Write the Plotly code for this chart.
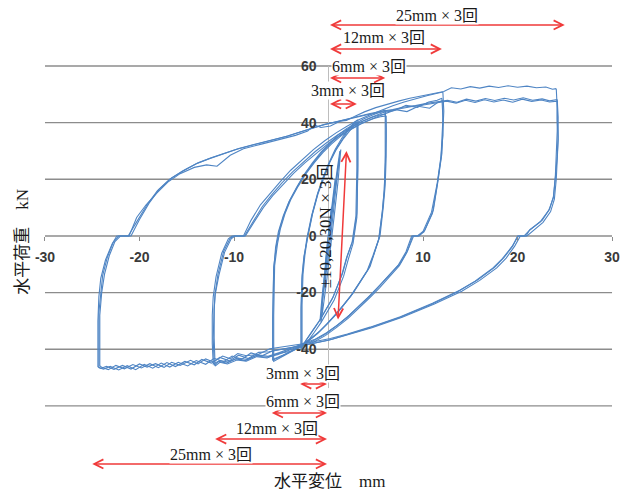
import plotly.graph_objects as go

# ---- hysteresis record: horizontal displacement (mm) vs horizontal load (kN) ----
# amplitude 25 mm, cycles 1-3
x25_1 = [24.1, 24.2, 24.2, 24.1, 24.0, 23.8, 23.4, 22.6, 21.3, 20.9, 20.0, 19.5, 18.6, 17.6, 15.8, 13.9, 11.0, 7.6,
         4.4, 2.0, 0.2, -2.5, -4.5, -6.2, -7.5, -8.7, -9.6, -10.4, -11.2, -12.2, -13.0, -13.8, -14.6, -15.7, -16.6,
         -17.4, -18.3, -19.2, -20.0, -20.9, -21.8, -22.7, -23.5, -24.1, -24.4, -24.4, -24.4, -24.3, -24.1, -23.6,
         -22.9, -22.4, -21.1, -20.3, -19.3, -18.2, -17.0, -15.7, -14.2, -12.9, -11.8, -10.4, -9.0, -7.0, -5.1, -3.5,
         -2.2, -1.5, -0.8, 0.2, 1.2, 1.9, 2.8, 3.8, 5.0, 6.2, 7.4, 8.6, 9.8, 11.0, 12.2, 13.0, 14.0, 15.0, 16.0,
         17.0, 18.0, 19.0, 20.0, 21.0, 22.0, 23.0, 23.7, 24.1]
y25_1 = [52.0, 45.0, 37.0, 29.0, 21.0, 14.0, 9.5, 5.5, 2.2, 0.0, 0.0, -3.5, -7.5, -11.0, -15.5, -19.2, -23.8, -28.5,
         -32.2, -34.6, -36.2, -38.0, -39.0, -39.8, -41.9, -42.3, -41.5, -43.4, -42.4, -44.5, -43.4, -45.2, -43.9,
         -45.7, -44.6, -46.4, -45.1, -46.3, -45.2, -47.0, -45.7, -47.1, -46.0, -46.8, -46.2, -40.0, -30.0, -21.5,
         -15.0, -8.5, -2.8, 0.0, 0.0, 6.5, 11.0, 15.0, 19.0, 22.0, 24.2, 25.1, 24.6, 28.5, 30.8, 32.5, 34.0, 35.5,
         37.0, 39.2, 38.3, 38.8, 40.5, 40.8, 42.3, 43.8, 45.3, 46.5, 47.6, 48.6, 49.4, 50.2, 51.0, 52.3, 51.9, 52.7,
         52.2, 52.9, 52.4, 53.0, 52.5, 52.9, 52.3, 52.6, 51.8, 52.0]

x25_2 = [24.2, 24.3, 24.3, 24.2, 24.0, 23.8, 23.3, 22.4, 21.2, 20.7, 20.1, 19.4, 18.4, 17.3, 15.5, 13.6, 10.8, 7.4,
         4.2, 1.8, 0.0, -2.6, -4.6, -6.3, -7.4, -8.5, -9.5, -10.5, -11.5, -12.4, -13.4, -14.2, -15.2, -16.2, -17.1,
         -18.0, -18.9, -19.8, -20.7, -21.6, -22.5, -23.3, -24.0, -24.2, -24.2, -24.2, -24.0, -23.7, -23.2, -22.6,
         -22.0, -20.9, -20.0, -19.0, -17.9, -16.6, -15.2, -13.8, -12.4, -11.0, -9.5, -7.8, -6.0, -4.3, -2.9, -1.6,
         -0.4, 0.8, 2.0, 3.2, 4.4, 5.6, 6.8, 8.0, 9.2, 10.4, 11.6, 12.6, 13.6, 14.6, 15.6, 16.6, 17.6, 18.6, 19.6,
         20.6, 21.6, 22.6, 23.4, 24.2]
y25_2 = [48.2, 42.0, 35.0, 28.0, 20.5, 13.5, 9.0, 5.0, 1.8, 0.0, 0.0, -3.8, -8.0, -11.6, -16.0, -19.8, -24.3, -29.0,
         -32.6, -35.0, -36.8, -38.6, -39.8, -40.9, -41.1, -43.3, -42.1, -44.1, -42.9, -44.9, -43.6, -45.5, -44.3,
         -46.1, -44.7, -46.5, -45.1, -46.6, -45.4, -46.9, -45.7, -47.2, -46.4, -45.8, -38.0, -28.0, -20.0, -13.5,
         -7.0, -2.0, 0.0, 0.0, 5.8, 11.5, 16.5, 20.5, 23.3, 25.8, 27.6, 29.3, 30.9, 32.4, 33.8, 35.3, 36.8, 38.2,
         39.4, 40.3, 41.3, 42.3, 43.2, 44.0, 44.6, 45.5, 46.0, 46.8, 47.3, 47.9, 47.2, 48.3, 47.6, 48.5, 47.8, 48.6,
         48.0, 48.8, 47.9, 48.4, 47.7, 48.2]

x25_3 = [24.2, 24.2, 24.3, 24.2, 24.1, 23.9, 23.5, 22.7, 21.5, 21.0, 20.3, 19.7, 18.8, 17.8, 16.0, 14.1, 11.2, 7.8,
         4.6, 2.2, 0.4, -2.2, -4.2, -5.9, -7.1, -8.2, -9.2, -10.2, -11.1, -12.1, -13.0, -14.0, -14.9, -15.9, -16.8,
         -17.7, -18.6, -19.5, -20.4, -21.3, -22.2, -23.1, -23.8, -24.3, -24.3, -24.3, -24.1, -23.9, -23.4, -22.8,
         -22.2, -21.2, -20.2, -19.2, -18.1, -16.8, -15.4, -14.0, -12.6, -11.2, -9.7, -8.0, -6.2, -4.5, -3.1, -1.8,
         -0.6, 0.6, 1.8, 3.0, 4.2, 5.4, 6.6, 7.8, 9.0, 10.2, 11.4, 12.5, 13.5, 14.5, 15.5, 16.5, 17.5, 18.5, 19.5,
         20.5, 21.5, 22.5, 23.4, 24.2]
y25_3 = [47.6, 41.0, 34.0, 27.5, 20.0, 13.0, 8.6, 4.8, 1.6, 0.0, 0.0, -3.6, -7.8, -11.3, -15.7, -19.5, -24.0, -28.7,
         -32.4, -34.8, -36.5, -38.3, -39.5, -40.5, -42.4, -41.3, -43.6, -42.4, -44.4, -43.2, -45.3, -44.0, -45.9,
         -44.6, -46.3, -44.9, -46.7, -45.3, -47.2, -45.8, -47.3, -46.0, -47.0, -46.5, -37.0, -27.0, -20.5, -14.0,
         -7.5, -2.4, 0.0, 0.0, 5.5, 11.0, 16.0, 20.0, 23.0, 25.5, 27.3, 29.0, 30.6, 32.1, 33.6, 35.1, 36.6, 38.0,
         39.2, 40.1, 41.1, 42.0, 42.9, 43.6, 44.4, 45.1, 45.8, 46.3, 46.9, 47.6, 46.9, 47.9, 47.1, 48.1, 47.3, 48.0,
         47.2, 48.3, 47.5, 48.0, 47.3, 47.6]

# amplitude 12 mm, cycles 1-3
x12_1 = [12.1, 12.2, 12.1, 12.0, 11.6, 11.1, 10.2, 9.6, 9.0, 8.4, 7.6, 6.6, 5.5, 4.4, 3.3, 2.2, 1.0, -0.2, -1.5, -2.8,
         -4.0, -5.2, -6.4, -7.5, -8.6, -9.6, -10.6, -11.5, -12.2, -12.3, -12.3, -12.2, -11.9, -11.3, -10.6, -10.2,
         -9.0, -8.2, -7.2, -6.2, -5.1, -4.0, -2.8, -1.6, -0.4, 0.8, 2.0, 3.2, 4.4, 5.6, 6.8, 8.0, 9.2, 10.4, 11.4,
         12.1]
y12_1 = [50.8, 44.0, 37.0, 29.2, 19.8, 9.2, 2.1, 0.0, 0.0, -5.0, -9.6, -13.3, -17.2, -21.0, -24.6, -28.0, -31.3,
         -34.2, -36.6, -38.2, -39.9, -41.2, -42.5, -42.0, -43.6, -43.1, -44.5, -44.0, -45.2, -38.0, -28.0, -21.5,
         -14.4, -6.1, -1.0, 0.0, 0.0, 5.5, 11.0, 15.0, 19.2, 23.2, 27.0, 30.5, 33.6, 36.4, 38.8, 41.0, 42.8, 44.5,
         46.0, 47.3, 48.5, 49.5, 50.3, 50.8]

x12_2 = [12.0, 12.1, 12.1, 11.9, 11.5, 10.9, 10.0, 9.4, 8.8, 8.2, 7.4, 6.4, 5.3, 4.2, 3.1, 2.0, 0.8, -0.4, -1.7, -3.0,
         -4.2, -5.4, -6.6, -7.7, -8.8, -9.8, -10.8, -11.6, -12.1, -12.2, -12.1, -12.0, -11.7, -11.1, -10.4, -10.0,
         -8.9, -8.0, -7.0, -6.0, -4.9, -3.8, -2.6, -1.4, -0.2, 1.0, 2.2, 3.4, 4.6, 5.8, 7.0, 8.2, 9.4, 10.6, 11.5,
         12.0]
y12_2 = [48.6, 42.0, 35.5, 28.0, 18.6, 8.4, 1.6, 0.0, 0.0, -5.6, -10.2, -14.0, -17.9, -21.7, -25.3, -28.7, -31.9,
         -34.8, -37.2, -38.9, -40.2, -41.9, -42.8, -42.3, -44.0, -43.4, -44.9, -44.3, -45.6, -36.0, -26.0, -20.5,
         -13.6, -5.5, -0.8, 0.0, 0.0, 5.0, 10.4, 14.6, 18.8, 22.6, 26.3, 29.8, 32.9, 35.7, 38.1, 40.2, 42.0, 43.6,
         44.3, 46.1, 45.4, 47.3, 47.9, 48.6]

x12_3 = [12.1, 12.1, 12.0, 11.9, 11.5, 11.0, 10.1, 9.5, 8.9, 8.3, 7.5, 6.5, 5.4, 4.3, 3.2, 2.1, 0.9, -0.3, -1.6, -2.9,
         -4.1, -5.3, -6.5, -7.6, -8.7, -9.7, -10.7, -11.5, -12.0, -12.1, -12.1, -12.0, -11.6, -11.0, -10.3, -9.9,
         -8.8, -7.9, -6.9, -5.9, -4.8, -3.7, -2.5, -1.3, -0.1, 1.1, 2.3, 3.5, 4.7, 5.9, 7.1, 8.3, 9.5, 10.7, 11.5,
         12.1]
y12_3 = [47.8, 41.0, 34.5, 27.4, 18.0, 8.0, 1.4, 0.0, 0.0, -5.8, -10.5, -14.4, -18.3, -22.0, -25.6, -29.0, -32.2,
         -35.1, -37.5, -39.3, -40.8, -41.5, -43.1, -42.6, -44.2, -43.8, -45.2, -44.6, -45.9, -36.0, -26.0, -20.8,
         -13.9, -5.8, -1.0, 0.0, 0.0, 4.8, 10.0, 14.2, 18.3, 22.1, 25.8, 29.2, 32.4, 35.2, 37.6, 39.7, 41.5, 43.0,
         44.6, 43.9, 45.8, 45.1, 47.0, 47.8]

# amplitude 6 mm, cycles 1-3
x6_1 = [6.0, 6.1, 6.1, 6.0, 5.8, 5.45, 4.9, 4.4, 3.5, 2.6, 1.7, 0.9, 0.0, -0.9, -1.9, -2.9, -3.9, -4.8, -5.5, -5.9,
        -5.9, -5.8, -5.6, -5.3, -4.8, -4.2, -3.4, -2.6, -1.7, -0.8, 0.1, 1.0, 1.9, 2.8, 3.7, 4.6, 5.4, 6.0]
y6_1 = [44.5, 38.0, 28.0, 18.0, 10.3, 0.0, -5.5, -10.8, -15.5, -20.2, -24.0, -27.3, -30.5, -33.5, -36.3, -38.6,
        -40.6, -42.0, -42.9, -43.6, -30.0, -12.0, -4.0, 1.5, 7.0, 12.0, 17.0, 21.6, 25.8, 29.6, 32.8, 35.6, 37.9,
        39.7, 41.3, 42.6, 43.8, 44.5]

x6_2 = [6.0, 6.0, 6.0, 5.9, 5.7, 5.35, 4.8, 4.2, 3.3, 2.4, 1.5, 0.7, -0.2, -1.1, -2.1, -3.1, -4.1, -4.9, -5.6, -5.9,
        -5.9, -5.8, -5.5, -5.2, -4.7, -4.1, -3.3, -2.5, -1.6, -0.7, 0.2, 1.1, 2.0, 2.9, 3.8, 4.7, 5.4, 6.0]
y6_2 = [43.0, 36.0, 26.0, 16.5, 9.0, -0.8, -6.5, -11.8, -16.5, -21.0, -24.8, -28.0, -31.2, -34.2, -36.9, -39.2,
        -41.0, -42.4, -43.4, -44.0, -29.0, -11.0, -3.2, 2.0, 7.5, 12.5, 17.4, 21.8, 25.9, 29.5, 32.6, 35.3, 37.5,
        39.3, 40.8, 42.0, 42.7, 43.0]

x6_3 = [6.1, 6.1, 6.0, 5.9, 5.7, 5.3, 4.7, 4.1, 3.2, 2.3, 1.4, 0.6, -0.3, -1.2, -2.2, -3.2, -4.2, -5.0, -5.6, -5.8,
        -5.8, -5.7, -5.4, -5.1, -4.6, -4.0, -3.2, -2.4, -1.5, -0.6, 0.3, 1.2, 2.1, 3.0, 3.9, 4.8, 5.5, 6.1]
y6_3 = [42.4, 35.0, 25.0, 16.0, 8.6, -1.2, -7.0, -12.2, -16.9, -21.4, -25.1, -28.4, -31.6, -34.6, -37.3, -39.6,
        -41.3, -42.8, -43.7, -44.3, -28.0, -10.5, -2.8, 2.4, 7.9, 12.8, 17.6, 21.9, 25.9, 29.4, 32.4, 35.0, 37.2,
        38.9, 40.3, 41.5, 42.1, 42.4]

# amplitude 3 mm, cycles 1-3
x3_1 = [3.1, 3.1, 3.0, 2.6, 2.0, 1.5, 0.5, -0.3, -0.9, -1.6, -2.3, -2.9, -2.9, -2.8, -2.6, -2.3, -1.8, -1.2, -0.6,
        0.0, 0.7, 1.4, 2.1, 2.7, 3.1]
y3_1 = [41.0, 25.0, 8.0, -1.4, -7.0, -13.0, -21.5, -26.0, -29.6, -33.0, -36.3, -39.5, -26.0, -15.0, -8.0, -1.0,
        7.0, 14.5, 20.5, 25.5, 30.5, 34.5, 37.8, 40.0, 41.0]

x3_2 = [3.0, 3.0, 2.9, 2.5, 1.9, 1.4, 0.4, -0.4, -1.0, -1.7, -2.4, -2.9, -2.9, -2.8, -2.6, -2.2, -1.7, -1.1, -0.5,
        0.1, 0.8, 1.5, 2.1, 2.6, 3.0]
y3_2 = [40.2, 24.0, 7.0, -2.2, -7.8, -13.8, -22.2, -26.8, -30.2, -33.6, -36.9, -40.0, -25.0, -14.0, -7.2, -0.4,
        7.6, 15.0, 20.8, 25.8, 30.6, 34.4, 37.4, 39.4, 40.2]

x3_3 = [3.1, 3.1, 3.0, 2.6, 2.1, 1.6, 0.6, -0.2, -0.8, -1.5, -2.2, -2.8, -2.8, -2.7, -2.5, -2.2, -1.7, -1.1, -0.5,
        0.1, 0.8, 1.5, 2.2, 2.7, 3.1]
y3_3 = [39.8, 23.0, 6.5, -2.6, -8.2, -14.2, -22.6, -27.2, -30.6, -34.0, -37.2, -40.4, -24.5, -13.5, -6.8, 0.0,
        8.0, 15.4, 21.0, 25.8, 30.4, 34.0, 37.0, 39.0, 39.8]

# load-controlled cycles ±10, ±20, ±30 kN
xf10 = [0.3, 0.05, -0.2, -0.35, -0.15, 0.1, 0.3]
yf10 = [10.0, 2.0, -5.0, -10.0, -4.0, 3.0, 10.0]
xf20 = [0.7, 0.4, 0.0, -0.3, -0.6, -0.4, -0.1, 0.3, 0.7]
yf20 = [20.0, 10.0, -1.0, -11.0, -20.0, -12.0, -2.0, 9.0, 20.0]
xf30_1 = [1.2, 0.9, 0.5, 0.1, -0.3, -0.7, -0.9, -0.7, -0.3, 0.1, 0.5, 0.9, 1.2]
yf30_1 = [30.0, 20.0, 8.0, -4.0, -15.0, -25.0, -30.0, -22.0, -10.0, 2.0, 13.0, 23.0, 30.0]
xf30_2 = [1.3, 1.0, 0.6, 0.2, -0.2, -0.6, -0.8, -0.6, -0.2, 0.2, 0.6, 1.0, 1.3]
yf30_2 = [30.5, 19.0, 7.0, -5.0, -16.0, -26.0, -30.5, -21.0, -9.0, 3.0, 14.0, 24.0, 30.5]

loops = [(xf10, yf10), (xf20, yf20), (xf30_1, yf30_1), (xf30_2, yf30_2),
         (x3_1, y3_1), (x3_2, y3_2), (x3_3, y3_3),
         (x6_1, y6_1), (x6_2, y6_2), (x6_3, y6_3),
         (x12_1, y12_1), (x12_2, y12_2), (x12_3, y12_3),
         (x25_1, y25_1), (x25_2, y25_2), (x25_3, y25_3)]

# axis ticks
x_ticks = [-30, -20, -10, 0, 10, 20, 30]
x_ticktext = ["-30", "-20", "-10", "", "10", "20", "30"]
y_grid = [-60, -40, -20, 0, 20, 40, 60]
y_ticks = [-40, -20, 0, 20, 40, 60]
y_ticktext = ["-40", "-20", "0", "20", "40", "60"]

# displacement amplitudes (mm) and load amplitude (kN) of the loading protocol
amplitudes = [3, 6, 12, 25]
amp_labels = ["3mm × 3回", "6mm × 3回", "12mm × 3回", "25mm × 3回"]
load_amp = 30
load_label = "±10,20,30N × 3回"

# figure geometry: the plot area fills the page, axes ranges place the frame
X_RANGE = [-34.76, 32.43]
Y_RANGE = [-90.40, 83.30]
BLUE = "#4f85c4"
RED = "#f03a3a"
GRID = "#8c8c8c"
SERIF = "Liberation Serif, Noto Sans CJK JP"

fig = go.Figure()
for lx, ly in loops:
    fig.add_trace(go.Scatter(x=lx, y=ly, mode="lines", showlegend=False, hoverinfo="skip",
                             line=dict(color=BLUE, width=1.1)))

shapes = []
for g in y_grid:
    shapes.append(dict(type="line", xref="x", yref="y", x0=-30, x1=30, y0=g, y1=g,
                       line=dict(color=GRID, width=1.4), layer="below"))
shapes.append(dict(type="line", xref="x", yref="y", x0=0, x1=0, y0=-53.7, y1=60,
                   line=dict(color="#bdbdbd", width=1), layer="below"))

annotations = []
arrow_style = dict(showarrow=True, arrowside="end+start", arrowhead=5, startarrowhead=5,
                   arrowsize=1.2, startarrowsize=1.2, arrowwidth=1.5, arrowcolor=RED,
                   standoff=0, startstandoff=0, text="")
# positive-side amplitude arrows (above the frame)
top_arrow_y = [46.6, 55.8, 66.0, 74.5]
top_text_y = [51.5, 59.7, 69.9, 77.7]
top_text_x = [2.1, 4.3, 5.9, 11.5]
for a, lab, ay, ty, tx in zip(amplitudes, amp_labels, top_arrow_y, top_text_y, top_text_x):
    annotations.append(dict(x=a, y=ay, ax=0, ay=ay, xref="x", yref="y", axref="x", ayref="y", **arrow_style))
    annotations.append(dict(x=tx, y=ty, xref="x", yref="y", text=lab, showarrow=False,
                            font=dict(family=SERIF, size=16, color="#1a1a1a"), bgcolor="white",
                            borderpad=0))
# negative-side amplitude arrows (below the frame)
bot_arrow_y = [-52.3, -62.5, -71.7, -80.5]
bot_text_y = [-48.4, -58.3, -68.1, -77.3]
bot_text_x = [-2.7, -2.7, -5.4, -12.4]
for a, lab, ay, ty, tx in zip(amplitudes, amp_labels, bot_arrow_y, bot_text_y, bot_text_x):
    annotations.append(dict(x=-a, y=ay, ax=0, ay=ay, xref="x", yref="y", axref="x", ayref="y", **arrow_style))
    annotations.append(dict(x=tx, y=ty, xref="x", yref="y", text=lab, showarrow=False,
                            font=dict(family=SERIF, size=16, color="#1a1a1a"), bgcolor="white",
                            borderpad=0))
# load-controlled amplitude arrow
annotations.append(dict(x=1.9, y=load_amp, ax=1.0, ay=-load_amp, xref="x", yref="y", axref="x", ayref="y",
                        **arrow_style))
annotations.append(dict(x=-0.35, y=3.5, xref="x", yref="y", text=load_label, textangle=-90, showarrow=False,
                        font=dict(family=SERIF, size=17, color="#1a1a1a")))
# axis titles
annotations.append(dict(x=0.1, y=-86.7, xref="x", yref="y", text="水平変位　mm", showarrow=False,
                        font=dict(family=SERIF, size=17, color="#1a1a1a")))
annotations.append(dict(x=-32.4, y=-1.9, xref="x", yref="y", text="水平荷重　kN", textangle=-90,
                        showarrow=False, font=dict(family=SERIF, size=17, color="#1a1a1a")))

tick_font = dict(family="Liberation Sans", size=14, color="#3a3a3a", weight="bold")
x_pos = (0 - Y_RANGE[0]) / (Y_RANGE[1] - Y_RANGE[0])
y_pos = (0 - X_RANGE[0]) / (X_RANGE[1] - X_RANGE[0])

fig.update_layout(
    width=635, height=492,
    margin=dict(l=0, r=0, t=0, b=0),
    paper_bgcolor="white", plot_bgcolor="white",
    shapes=shapes, annotations=annotations,
    xaxis=dict(range=X_RANGE, anchor="free", position=x_pos, showgrid=False, zeroline=False,
               showline=False, ticks="outside", ticklen=4, tickwidth=1.3, tickcolor=GRID,
               tickvals=x_ticks, ticktext=x_ticktext, tickfont=tick_font, ticklabelstandoff=4,
               automargin=False, fixedrange=True),
    yaxis=dict(range=Y_RANGE, anchor="free", position=y_pos, showgrid=False, zeroline=False,
               showline=False, ticks="", tickvals=y_ticks, ticktext=y_ticktext, tickfont=tick_font,
               ticklabelstandoff=12, automargin=False, fixedrange=True),
)

fig.write_html("out.html")
